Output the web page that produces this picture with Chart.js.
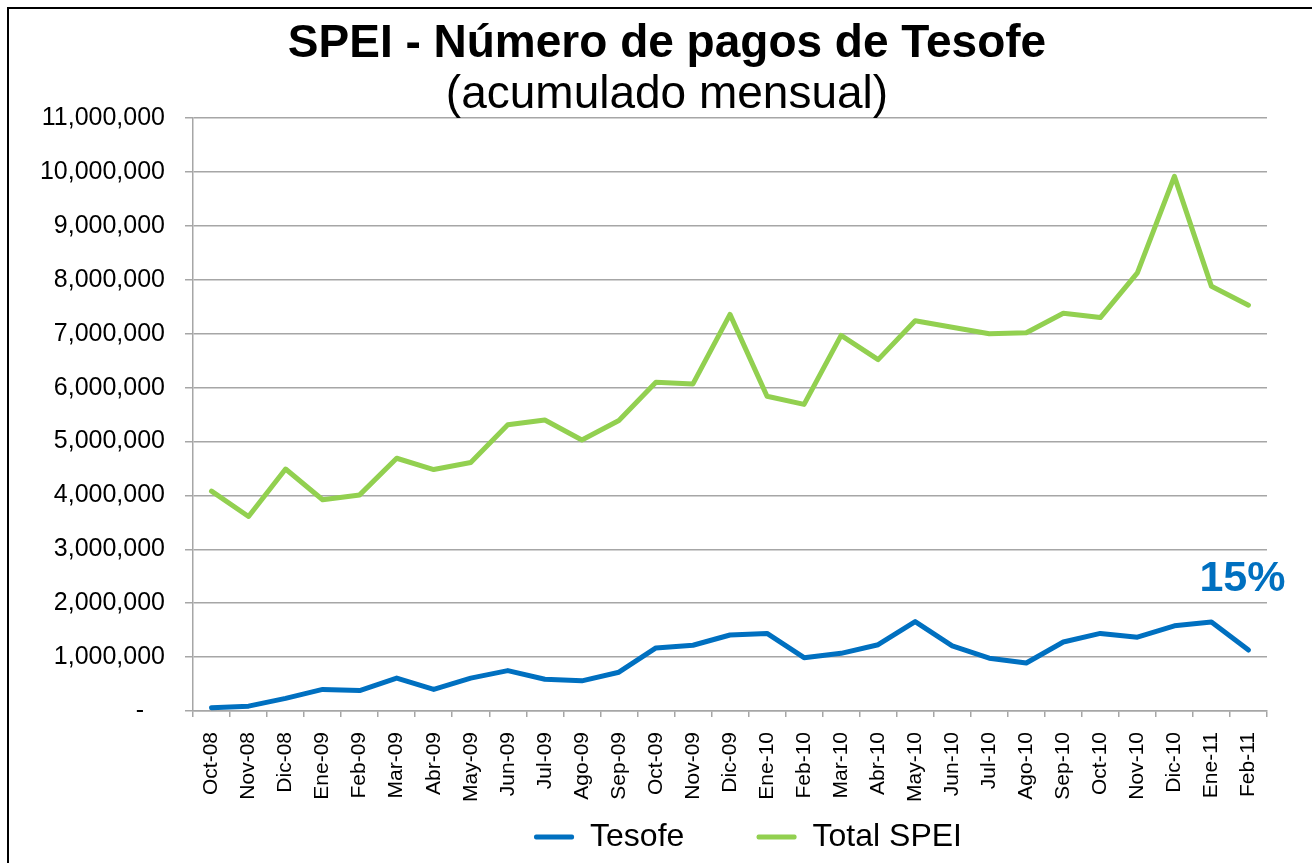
<!DOCTYPE html>
<html>
<head>
<meta charset="utf-8">
<title>SPEI - Número de pagos de Tesofe</title>
<script src="https://cdn.jsdelivr.net/npm/chart.js@4.4.1/dist/chart.umd.min.js"></script>
<style>
    html, body { margin: 0; padding: 0; background: #fff; }
    #wrap { width: 1312px; height: 863px; position: relative; }
</style>
</head>
<body>
<div id="wrap"><canvas id="speiChart"></canvas></div>
<script>
// data
const months = ["Oct-08", "Nov-08", "Dic-08", "Ene-09", "Feb-09", "Mar-09", "Abr-09", "May-09", "Jun-09",
    "Jul-09", "Ago-09", "Sep-09", "Oct-09", "Nov-09", "Dic-09", "Ene-10", "Feb-10", "Mar-10", "Abr-10",
    "May-10", "Jun-10", "Jul-10", "Ago-10", "Sep-10", "Oct-10", "Nov-10", "Dic-10", "Ene-11", "Feb-11"];

const tesofe = [60000, 90000, 235000, 400000, 380000, 610000, 400000, 610000, 750000,
    590000, 560000, 720000, 1170000, 1220000, 1410000, 1440000, 990000, 1070000, 1230000,
    1660000, 1210000, 980000, 890000, 1280000, 1440000, 1370000, 1580000, 1650000, 1130000];

const totalSpei = [4080000, 3610000, 4490000, 3920000, 4010000, 4690000, 4480000, 4610000, 5310000,
    5400000, 5030000, 5390000, 6100000, 6070000, 7360000, 5840000, 5690000, 6970000, 6520000,
    7240000, 7120000, 7000000, 7020000, 7380000, 7300000, 8130000, 9920000, 7880000, 7530000];

const seriesNames = ["Tesofe", "Total SPEI"];
const yMax = 11000000;
const yStep = 1000000;
const shareLabel = "15%";
const shareLabelValue = 2450000;

const FONT = "'Liberation Sans', Arial, sans-serif";
Chart.defaults.font.family = FONT;
Chart.defaults.color = "#000";

// white background + the frame line at left/top
const frame = {
    id: "frame",
    afterLayout(chart) {
        // let the y labels run past the narrowed axis box
        chart.scales.y.left = 0;
        // legend sits a bit right of the plot centre
        chart.legend.left += 18;
        chart.legend.right += 18;
    },
    beforeDraw(chart) {
        const ctx = chart.ctx;
        ctx.save();
        ctx.fillStyle = "#fff";
        ctx.fillRect(0, 0, chart.width, chart.height);
        ctx.restore();
    },
    afterDraw(chart) {
        const ctx = chart.ctx;
        ctx.save();
        ctx.strokeStyle = "#000";
        ctx.lineWidth = 2;
        ctx.strokeRect(8, 8, chart.width + 20, chart.height + 20);
        ctx.restore();
    }
};

// the "15%" note next to the last point
const shareNote = {
    id: "shareNote",
    afterDatasetsDraw(chart) {
        const { ctx, scales: { x, y } } = chart;
        const px = x.getPixelForValue(months.length - 1) - 6;
        const py = y.getPixelForValue(shareLabelValue);
        ctx.save();
        ctx.font = "bold 43px " + FONT;
        ctx.fillStyle = "#0070C0";
        ctx.textAlign = "center";
        ctx.textBaseline = "middle";
        ctx.fillText(shareLabel, px, py);
        ctx.restore();
    }
};

const ctx = document.getElementById("speiChart").getContext("2d");

new Chart(ctx, {
    type: "line",
    data: {
        labels: months,
        datasets: [{
            label: seriesNames[0],
            data: tesofe,
            borderColor: "#0070C0",
            backgroundColor: "#0070C0",
            borderWidth: 5,
            pointRadius: 0,
            tension: 0,
            borderJoinStyle: "round",
            borderCapStyle: "round"
        }, {
            label: seriesNames[1],
            data: totalSpei,
            borderColor: "#92D050",
            backgroundColor: "#92D050",
            borderWidth: 5,
            pointRadius: 0,
            tension: 0,
            borderJoinStyle: "round",
            borderCapStyle: "round"
        }]
    },
    options: {
        responsive: true,
        maintainAspectRatio: false,
        animation: false,
        layout: {
            padding: { left: 67, right: 45, top: 0, bottom: 0 }
        },
        plugins: {
            title: {
                display: true,
                text: "SPEI - Número de pagos de Tesofe",
                color: "#000",
                font: { size: 46, weight: "bold", lineHeight: 1.2 },
                padding: { top: 17, bottom: 0 }
            },
            subtitle: {
                display: true,
                text: "(acumulado mensual)",
                color: "#000",
                font: { size: 46, weight: "normal", lineHeight: 1.0 },
                padding: { top: 0, bottom: 0 }
            },
            legend: {
                position: "bottom",
                fullSize: false,
                labels: {
                    font: { size: 32 },
                    color: "#000",
                    boxWidth: 40,
                    boxHeight: 5,
                    padding: 10,
                    generateLabels(chart) {
                        return chart.data.datasets.map((ds, i) => ({
                            text: i === 0 ? ds.label + "       " : ds.label,
                            fillStyle: ds.borderColor,
                            strokeStyle: ds.borderColor,
                            lineWidth: 0,
                            borderRadius: 2,
                            hidden: false,
                            datasetIndex: i,
                            fontColor: "#000"
                        }));
                    }
                }
            },
            tooltip: { enabled: false }
        },
        scales: {
            x: {
                offset: true,
                grid: {
                    offset: true,
                    drawOnChartArea: false,
                    drawTicks: true,
                    tickLength: 6,
                    color: "#a6a6a6",
                    lineWidth: 1.5
                },
                border: { color: "#a6a6a6", width: 1.5 },
                ticks: {
                    autoSkip: false,
                    maxRotation: 90,
                    minRotation: 90,
                    padding: 15,
                    font: { size: 21 },
                    color: "#000"
                },
                afterFit(scale) {
                    scale.height = 100;
                }
            },
            y: {
                min: 0,
                max: yMax,
                grid: {
                    color: "#a6a6a6",
                    lineWidth: 1.5,
                    tickLength: 8
                },
                border: { color: "#a6a6a6", width: 1.5 },
                ticks: {
                    stepSize: yStep,
                    padding: 20,
                    font: { size: 25 },
                    color: "#000",
                    callback: function (value) {
                        if (value === 0) return "-   ";
                        return value.toLocaleString("en-US");
                    }
                },
                afterFit(scale) {
                    scale.width = 126;
                }
            }
        }
    },
    plugins: [frame, shareNote]
});
</script>
</body>
</html>
